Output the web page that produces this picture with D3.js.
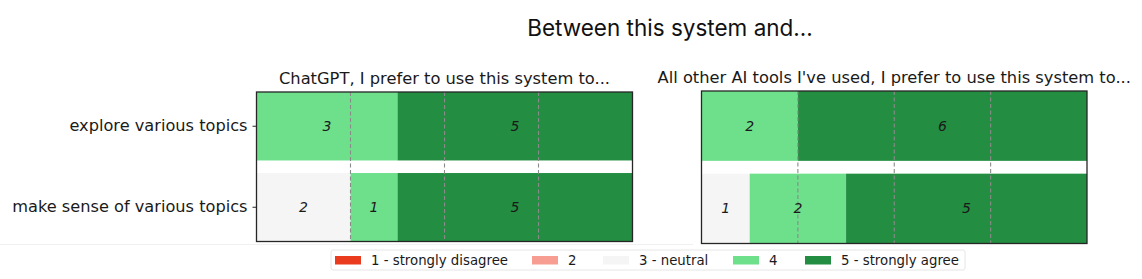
<!DOCTYPE html>
<html>
<head>
<meta charset="utf-8">
<script src="https://cdn.jsdelivr.net/npm/d3@7"></script>
<style>
  html, body { margin: 0; padding: 0; background: #fff; }
  svg { display: block; }
</style>
</head>
<body>
<svg id="chart" width="1142" height="279"></svg>
<script>
// ---- data ----
const categories = ["explore various topics", "make sense of various topics"];
const levels = ["1 - strongly disagree", "2", "3 - neutral", "4", "5 - strongly agree"];
const levelColors = ["#ea3b1f", "#f89d91", "#f5f5f5", "#6ee08c", "#238e41"];
const panelTitles = ["ChatGPT, I prefer to use this system to...", "All other AI tools I've used, I prefer to use this system to..."];
const chatgptCounts = [[0, 0, 0, 3, 5], [0, 0, 2, 1, 5]];
const otherToolsCounts = [[0, 0, 0, 2, 6], [0, 0, 1, 2, 5]];
const gridTicks = [2, 4, 6];
const mainTitle = "Between this system and...";

// ---- layout ----
const svg = d3.select("#chart");
const panels = [
  { title: panelTitles[0], counts: chatgptCounts, x0: 256.5, x1: 632.5, y0: 92, y1: 241.5, showY: true },
  { title: panelTitles[1], counts: otherToolsCounts, x0: 701.5, x1: 1087, y0: 91, y1: 243.5, showY: false }
];

svg.append("text")
  .attr("x", 670).attr("y", 36)
  .attr("text-anchor", "middle")
  .style("font-family", "Inter, 'Noto Sans', sans-serif")
  .style("font-size", "22.5px")
  .attr("fill", "#111")
  .text(mainTitle);

// faint figure edge line
svg.append("line").attr("x1", 0).attr("x2", 693).attr("y1", 244.5).attr("y2", 244.5)
  .attr("stroke", "#f0f0f0").attr("stroke-width", 1);

panels.forEach(p => {
  const total = d3.sum(p.counts[0]);
  const x = d3.scaleLinear().domain([0, total]).range([p.x0, p.x1]);
  const y = d3.scaleBand().domain(categories).range([p.y0, p.y1]).paddingInner(0.155).paddingOuter(0);
  const rows = categories.map((c, i) => {
    const o = { cat: c };
    levels.forEach((l, j) => o[l] = p.counts[i][j]);
    return o;
  });
  const stack = d3.stack().keys(levels)(rows);
  const g = svg.append("g");

  stack.forEach((layer, li) => {
    g.selectAll(null).data(layer).enter().append("rect")
      .attr("x", d => x(d[0]))
      .attr("y", d => y(d.data.cat))
      .attr("width", d => x(d[1]) - x(d[0]))
      .attr("height", y.bandwidth())
      .attr("fill", levelColors[li]);
  });

  // grid lines
  g.selectAll(null).data(gridTicks).enter().append("line")
    .attr("x1", d => x(d)).attr("x2", d => x(d))
    .attr("y1", p.y0).attr("y2", p.y1)
    .attr("stroke", "#8a8a8a").attr("stroke-width", 1.1)
    .attr("stroke-dasharray", "4,2.5");

  // labels
  stack.forEach(layer => {
    g.selectAll(null).data(layer.filter(d => d[1] - d[0] > 0)).enter().append("text")
      .attr("x", d => (x(d[0]) + x(d[1])) / 2)
      .attr("y", d => y(d.data.cat) + y.bandwidth() / 2)
      .attr("dy", "0.35em")
      .attr("text-anchor", "middle")
      .style("font-family", "'DejaVu Sans', sans-serif")
      .style("font-style", "italic")
      .style("font-size", "14px")
      .attr("fill", "#1a1a1a")
      .text(d => d[1] - d[0]);
  });

  // frame
  g.append("rect")
    .attr("x", p.x0).attr("y", p.y0)
    .attr("width", p.x1 - p.x0).attr("height", p.y1 - p.y0)
    .attr("fill", "none").attr("stroke", "#262626").attr("stroke-width", 1.3);

  // y axis
  if (p.showY) {
    const ax = d3.axisLeft(y).tickSize(4).tickPadding(5);
    const ga = svg.append("g").attr("transform", `translate(${p.x0},0)`).call(ax);
    ga.select(".domain").remove();
    ga.selectAll("line").attr("stroke", "#262626");
    ga.selectAll("text")
      .style("font-family", "'DejaVu Sans', sans-serif")
      .style("font-size", "16.2px")
      .attr("fill", "#1a1a1a");
  }

  // title
  svg.append("text")
    .attr("x", (p.x0 + p.x1) / 2).attr("y", p.y0 - 8)
    .attr("text-anchor", "middle")
    .style("font-family", "'DejaVu Sans', sans-serif")
    .style("font-size", "16.3px")
    .attr("fill", "#1a1a1a")
    .text(p.title);
});

// legend
const legX = [335, 532, 603, 733, 805];
const leg = svg.append("g");
leg.append("rect").attr("x", 331).attr("y", 250).attr("width", 634).attr("height", 20)
  .attr("fill", "#fff").attr("stroke", "#e6e6e6").attr("stroke-width", 1).attr("rx", 2);
levels.forEach((l, i) => {
  leg.append("rect").attr("x", legX[i]).attr("y", 256).attr("width", 26).attr("height", 8.5)
    .attr("fill", levelColors[i]);
  leg.append("text").attr("x", legX[i] + 36).attr("y", 260.5).attr("dy", "0.35em")
    .style("font-family", "'DejaVu Sans', sans-serif")
    .style("font-size", "13.3px")
    .attr("fill", "#1a1a1a")
    .text(l);
});
</script>
</body>
</html>
